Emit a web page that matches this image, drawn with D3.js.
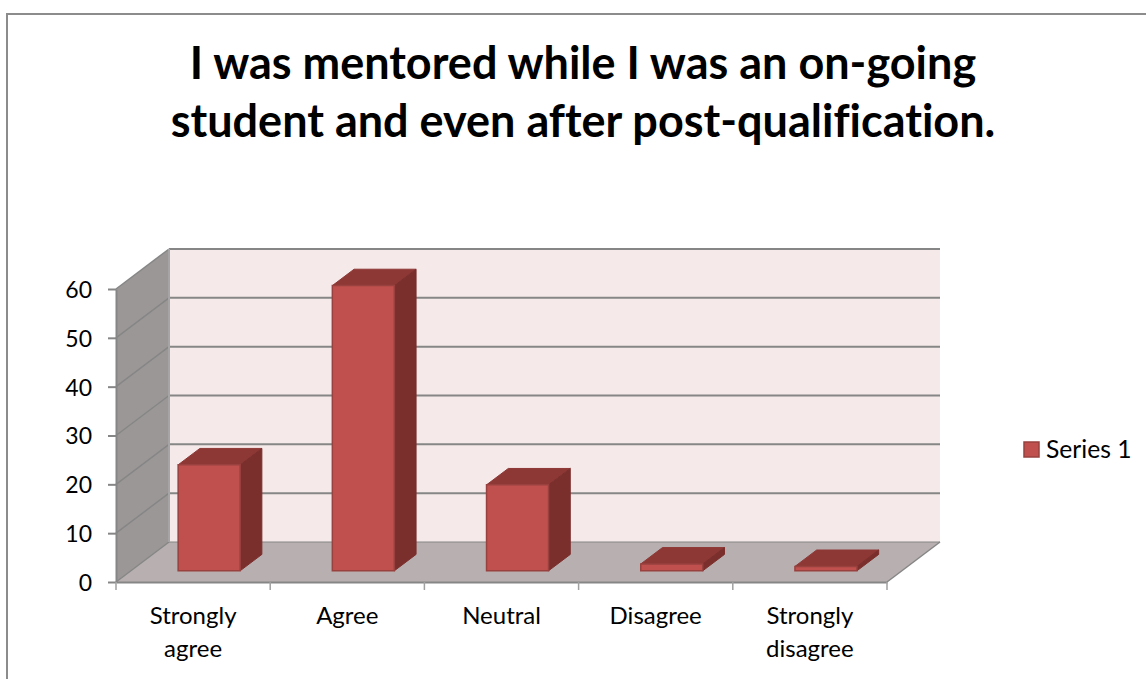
<!DOCTYPE html>
<html>
<head>
<meta charset="utf-8">
<script src="https://cdn.jsdelivr.net/npm/d3@7"></script>
<style>
  html, body { margin: 0; padding: 0; background: #fff; }
  text { font-family: Lato, "Open Sans", sans-serif; fill: #000; font-variant-ligatures: none; }
</style>
</head>
<body>
<svg id="chart" width="1146" height="679"></svg>
<script>
const titleLines = ["I was mentored while I was an on-going", "student and even after post-qualification."];
const categories = ["Strongly agree", "Agree", "Neutral", "Disagree", "Strongly disagree"];
const categoryLines = [["Strongly", "agree"], ["Agree"], ["Neutral"], ["Disagree"], ["Strongly", "disagree"]];
const values = [21.7, 58.4, 17.6, 1.4, 0.9];
const yTicks = [0, 10, 20, 30, 40, 50, 60];
const seriesName = "Series 1";

const svg = d3.select("#chart");

// chart frame
svg.append("path")
  .attr("d", "M7,679V14H1146")
  .attr("fill", "none").attr("stroke", "#8c8c8c").attr("stroke-width", 2);

// front plane scales, the depth goes through proj()
const x = d3.scaleBand().domain(categories).range([116, 887]);
const y = d3.scaleLinear().domain([0, 60]).range([582, 289]);
const depthX = 53, depthY = -40;
const barFront = 0.28, barBack = 0.69;

function proj(px, py, z) { return [px + depthX * z, py + depthY * z]; }
function poly(pts) { return "M" + pts.map(p => p.join(",")).join("L") + "Z"; }

const left = x.range()[0], right = x.range()[1];

// floor
svg.append("path")
  .attr("d", poly([proj(left, y(0), 0), proj(right, y(0), 0), proj(right, y(0), 1), proj(left, y(0), 1)]))
  .attr("fill", "#b8b0b0");

// back wall
svg.append("path")
  .attr("d", poly([proj(left, y(0), 1), proj(right, y(0), 1), proj(right, y(60), 1), proj(left, y(60), 1)]))
  .attr("fill", "#f5e9e9");

// side wall
svg.append("path")
  .attr("d", poly([proj(left, y(0), 0), proj(left, y(0), 1), proj(left, y(60), 1), proj(left, y(60), 0)]))
  .attr("fill", "#9c9797");

// gridlines across side wall and back wall
const grid = svg.append("g").attr("fill", "none").attr("stroke", "#868686");
yTicks.forEach(t => {
  const a = proj(left, y(t), 0), b = proj(left, y(t), 1), c = proj(right, y(t), 1);
  grid.append("path")
    .attr("d", "M" + [a, b].map(p => p.join(",")).join("L"))
    .attr("stroke-width", 1.5);
  grid.append("path")
    .attr("d", "M" + [b, c].map(p => p.join(",")).join("L"))
    .attr("stroke-width", t === 0 ? 1.2 : 2);
});
// wall corner and floor edge
grid.append("path")
  .attr("d", "M" + [proj(left, y(0), 1), proj(left, y(60), 1)].map(p => p.join(",")).join("L"))
  .attr("stroke", "#a5a5a5").attr("stroke-width", 2);
grid.append("path")
  .attr("d", "M" + [proj(right, y(0), 0), proj(right, y(0), 1)].map(p => p.join(",")).join("L"))
  .attr("stroke-width", 1.5);

// bars
const barW = 62;
const bars = svg.append("g").selectAll("g").data(values).enter().append("g");
function corner(i, v, side, z) {
  const cx = x(categories[i]) + x.bandwidth() / 2 + 1.2;
  return proj(cx + side * barW / 2, y(v), z);
}
// top
bars.append("path")
  .attr("d", (d, i) => poly([corner(i, d, -1, barFront), corner(i, d, 1, barFront), corner(i, d, 1, barBack), corner(i, d, -1, barBack)]))
  .attr("fill", "#8e3836").attr("stroke", "#8e3836");
// right side
bars.append("path")
  .attr("d", (d, i) => poly([corner(i, d, 1, barFront), corner(i, 0, 1, barFront), corner(i, 0, 1, barBack), corner(i, d, 1, barBack)]))
  .attr("fill", "#7b2f2d").attr("stroke", "#7b2f2d");
// front
bars.append("path")
  .attr("d", (d, i) => poly([corner(i, d, -1, barFront), corner(i, d, 1, barFront), corner(i, 0, 1, barFront), corner(i, 0, -1, barFront)]))
  .attr("fill", "#c0504d").attr("stroke", "#98413f").attr("stroke-width", 1.5);

// axes
const yAxis = d3.axisLeft(y).tickValues(yTicks).tickSize(8).tickPadding(16).tickSizeOuter(0);
const gy = svg.append("g").attr("transform", `translate(${left},0)`).call(yAxis);
const xAxis = d3.axisBottom(x).tickSize(0).tickFormat("");
const gx = svg.append("g").attr("transform", `translate(0,${y(0)})`).call(xAxis);
[gy, gx].forEach(g => {
  g.selectAll(".domain").attr("stroke", "#868686").attr("stroke-width", 2);
  g.selectAll("line").attr("stroke", "#868686").attr("stroke-width", 2);
});
gy.selectAll("text").attr("font-size", 23).attr("font-family", "Lato").attr("y", 1);

// category ticks between the bands
const xEdges = categories.map(c => x(c)).concat([right]);
svg.append("g").selectAll("line").data(xEdges).enter().append("line")
  .attr("x1", d => d).attr("x2", d => d)
  .attr("y1", y(0)).attr("y2", y(0) + 8)
  .attr("stroke", "#a0a0a0").attr("stroke-width", 1.5);

// category labels
const labels = svg.append("g").selectAll("text").data(categories).enter().append("text")
  .attr("text-anchor", "middle").attr("font-size", 24);
labels.each(function (d, i) {
  const t = d3.select(this);
  categoryLines[i].forEach((line, k) => {
    t.append("tspan")
      .attr("x", x(d) + x.bandwidth() / 2)
      .attr("y", 624 + k * 33)
      .text(line);
  });
});

// title
svg.append("g").selectAll("text").data(titleLines).enter().append("text")
  .attr("x", 583).attr("y", (d, i) => 79 + i * 58)
  .attr("text-anchor", "middle")
  .attr("font-size", 45).attr("font-weight", 700)
  .text(d => d);

// legend
svg.append("rect").attr("x", 1024).attr("y", 442).attr("width", 15).attr("height", 15)
  .attr("fill", "#c0504d").attr("stroke", "#98413f").attr("stroke-width", 1.5);
svg.append("text").attr("x", 1046).attr("y", 458).attr("font-size", 24.7).text(seriesName);
</script>
</body>
</html>
